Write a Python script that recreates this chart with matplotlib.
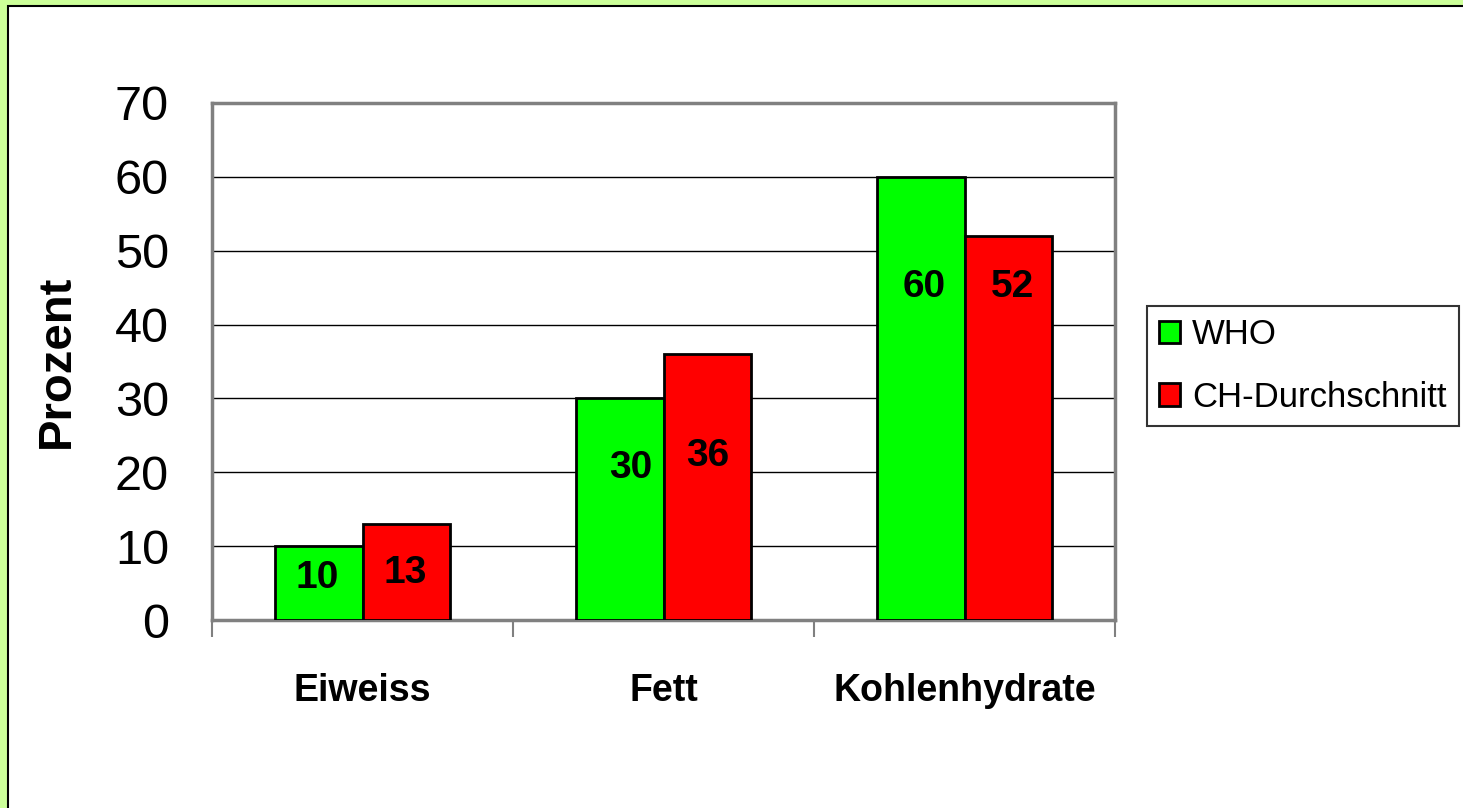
import matplotlib
matplotlib.use('Agg')
import matplotlib.pyplot as plt
from matplotlib.patches import Rectangle
import numpy as np

plt.rcParams['font.family'] = ['Liberation Sans', 'DejaVu Sans']

# ===== Daten =====
categories = ['Eiweiss', 'Fett', 'Kohlenhydrate']
who = [10, 30, 60]
ch_avg = [13, 36, 52]
series_names = ['WHO', 'CH-Durchschnitt']
yticks = [0, 10, 20, 30, 40, 50, 60, 70]

# Beschriftungspositionen (wie im Original, nicht mittig)
label_y_who = [5.7, 20.6, 45.1]
label_y_ch = [6.4, 22.2, 45.1]
label_dx_who = [-0.005, 0.037, 0.012]
label_dx_ch = [-0.005, 0.0, 0.012]

W, H = 1463, 808
fig = plt.figure(figsize=(W / 100, H / 100), dpi=100)
fig.patch.set_facecolor('#ccff99')
# weisse Flaeche mit schwarzem Rahmen
fig.patches.append(Rectangle((8 / W, -0.1), 1.2, 1 - 6 / H + 0.1,
                             transform=fig.transFigure, facecolor='white',
                             edgecolor='black', lw=1.5, zorder=-10))

ax = fig.add_axes([212 / W, 1 - 620 / H, 903 / W, 517 / H])
ax.set_facecolor('white')

x = np.arange(len(categories))
bw = 0.292
ax.bar(x - bw / 2, who, bw, color='#00ff00', edgecolor='black', lw=2,
       label=series_names[0], zorder=3)
ax.bar(x + bw / 2, ch_avg, bw, color='#ff0000', edgecolor='black', lw=2,
       label=series_names[1], zorder=3)

for i in range(len(categories)):
    ax.text(x[i] - bw / 2 + label_dx_who[i], label_y_who[i], str(who[i]),
            ha='center', va='center', fontsize=28, fontweight='bold', zorder=4)
    ax.text(x[i] + bw / 2 + label_dx_ch[i], label_y_ch[i], str(ch_avg[i]),
            ha='center', va='center', fontsize=28, fontweight='bold', zorder=4)

ax.set_xlim(-0.5, 2.5)
ax.set_ylim(0, 70)
ax.set_yticks(yticks)
ax.set_yticklabels([str(v) for v in yticks], fontsize=35)
ax.tick_params(axis='y', length=0, pad=31)
ax.yaxis.grid(True, color='black', lw=1)
ax.set_axisbelow(True)

ax.set_xticks(x)
ax.set_xticklabels(categories, fontsize=27, fontweight='bold')
ax.tick_params(axis='x', which='major', length=0, pad=38)
ax.set_xticks(np.arange(-0.5, 3, 1), minor=True)
ax.tick_params(axis='x', which='minor', length=12, width=1.5, color='#808080')

for s in ax.spines.values():
    s.set_color('#808080')
    s.set_linewidth(2.5)

ax.set_ylabel('Prozent', fontsize=34, fontweight='bold', labelpad=26)

leg = ax.legend(loc='center left', bbox_to_anchor=(1147 / W, 1 - 366 / H),
                bbox_transform=fig.transFigure, fontsize=25, frameon=True,
                fancybox=False, edgecolor='black', handlelength=0.6,
                handleheight=0.6, handletextpad=0.35, labelspacing=0.85,
                borderpad=0.35, borderaxespad=0)
leg.get_frame().set_linewidth(1.5)

fig.savefig('out.png', dpi=100, facecolor=fig.get_facecolor())
